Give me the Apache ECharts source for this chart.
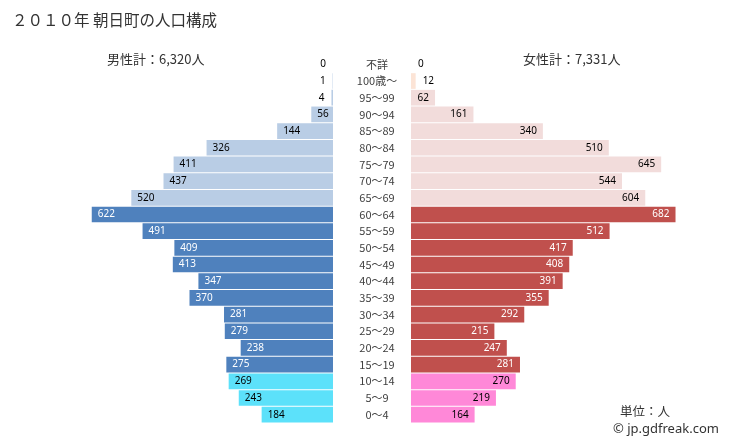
<!DOCTYPE html>
<html><head><meta charset="utf-8">
<script src="https://cdn.jsdelivr.net/npm/echarts@6/dist/echarts.min.js"></script>
<style>html,body{margin:0;padding:0;background:#fff}#c{width:729px;height:446px}</style>
</head><body><div id="c"></div>
<script>
const categories = ['不詳','100歳～','95～99','90～94','85～89','80～84','75～79','70～74','65～69','60～64','55～59','50～54','45～49','40～44','35～39','30～34','25～29','20～24','15～19','10～14','5～9','0～4'];
const maleValues = [0,1,4,56,144,326,411,437,520,622,491,409,413,347,370,281,279,238,275,269,243,184];
const femaleValues = [0,12,62,161,340,510,645,544,604,682,512,417,408,391,355,292,215,247,281,270,219,164];
const titleText = '２０１０年 朝日町の人口構成';
const maleTotal = '男性計：6,320人';
const femaleTotal = '女性計：7,331人';

function group(i){ if(i<=1) return i===1?'c':'o'; if(i<=8) return 'o'; if(i<=18) return 'w'; return 'k'; }
const maleCol = {c:'#b9cde5', o:'#b9cde5', w:'#4f81bd', k:'#5ce1fa'};
const femCol = {c:'#fce4d6', o:'#f2dcdb', w:'#c0504d', k:'#ff88d8'};
const txtCol = {c:'#000', o:'#000', w:'#fff', k:'#000'};
const numFont = 'Noto Sans';

function items(vals, cols, side){
  return vals.map((v,i)=>{
    const g = group(i);
    const small = side==='m' ? v < 20 : v < 30;
    return {
      value: v,
      itemStyle: {color: cols[g]},
      label: {
        show: true,
        position: side==='m' ? (small?'left':'insideLeft') : (small?'right':'insideRight'),
        distance: small ? 7 : 6,
        color: small ? '#000' : txtCol[g],
        fontSize: 10, fontFamily: numFont
      }
    };
  });
}

const W = 271.5, TOP = 56, H = 367;
const chart = echarts.init(document.getElementById('c'), null, {renderer:'canvas'});
chart.setOption({
  animation: false,
  grid: [
    {left: 333 - W, top: TOP, width: W, height: H},
    {left: 411, top: TOP, width: W, height: H}
  ],
  xAxis: [
    {gridIndex:0, type:'value', min:0, max:700, inverse:true, show:false},
    {gridIndex:1, type:'value', min:0, max:700, show:false}
  ],
  yAxis: [
    {gridIndex:0, type:'category', data:categories, inverse:true, position:'right',
     axisLine:{show:false}, axisTick:{show:false}, axisLabel:{show:false}, splitLine:{show:false}},
    {gridIndex:1, type:'category', data:categories, inverse:true, position:'left',
     axisLine:{show:false}, axisTick:{show:false}, splitLine:{show:false},
     axisLabel:{show:true, align:'center', margin:34, color:'#404040', fontSize:11, fontFamily:'Noto Sans CJK JP'}}
  ],
  series: [
    {type:'bar', xAxisIndex:0, yAxisIndex:0, data: items(maleValues, maleCol, 'm'), barCategoryGap:'6%'},
    {type:'bar', xAxisIndex:1, yAxisIndex:1, data: items(femaleValues, femCol, 'f'), barCategoryGap:'6%'}
  ],
  graphic: [
    {type:'text', left:12, top:12, style:{text:titleText, fontSize:15.5, fontFamily:'Noto Sans CJK JP', fill:'#333'}},
    {type:'text', left:107, top:53, style:{text:maleTotal, fontSize:13, fontFamily:'Noto Sans CJK JP', fill:'#333'}},
    {type:'text', left:523, top:53, style:{text:femaleTotal, fontSize:13, fontFamily:'Noto Sans CJK JP', fill:'#333'}},
    {type:'text', left:620, top:405, style:{text:'単位：人', fontSize:12.5, fontFamily:'Noto Sans CJK JP', fill:'#333'}},
    {type:'text', left:613, top:423, style:{text:'© jp.gdfreak.com', fontSize:13, fontFamily:'Noto Sans', fill:'#333'}}
  ]
});
</script></body></html>
